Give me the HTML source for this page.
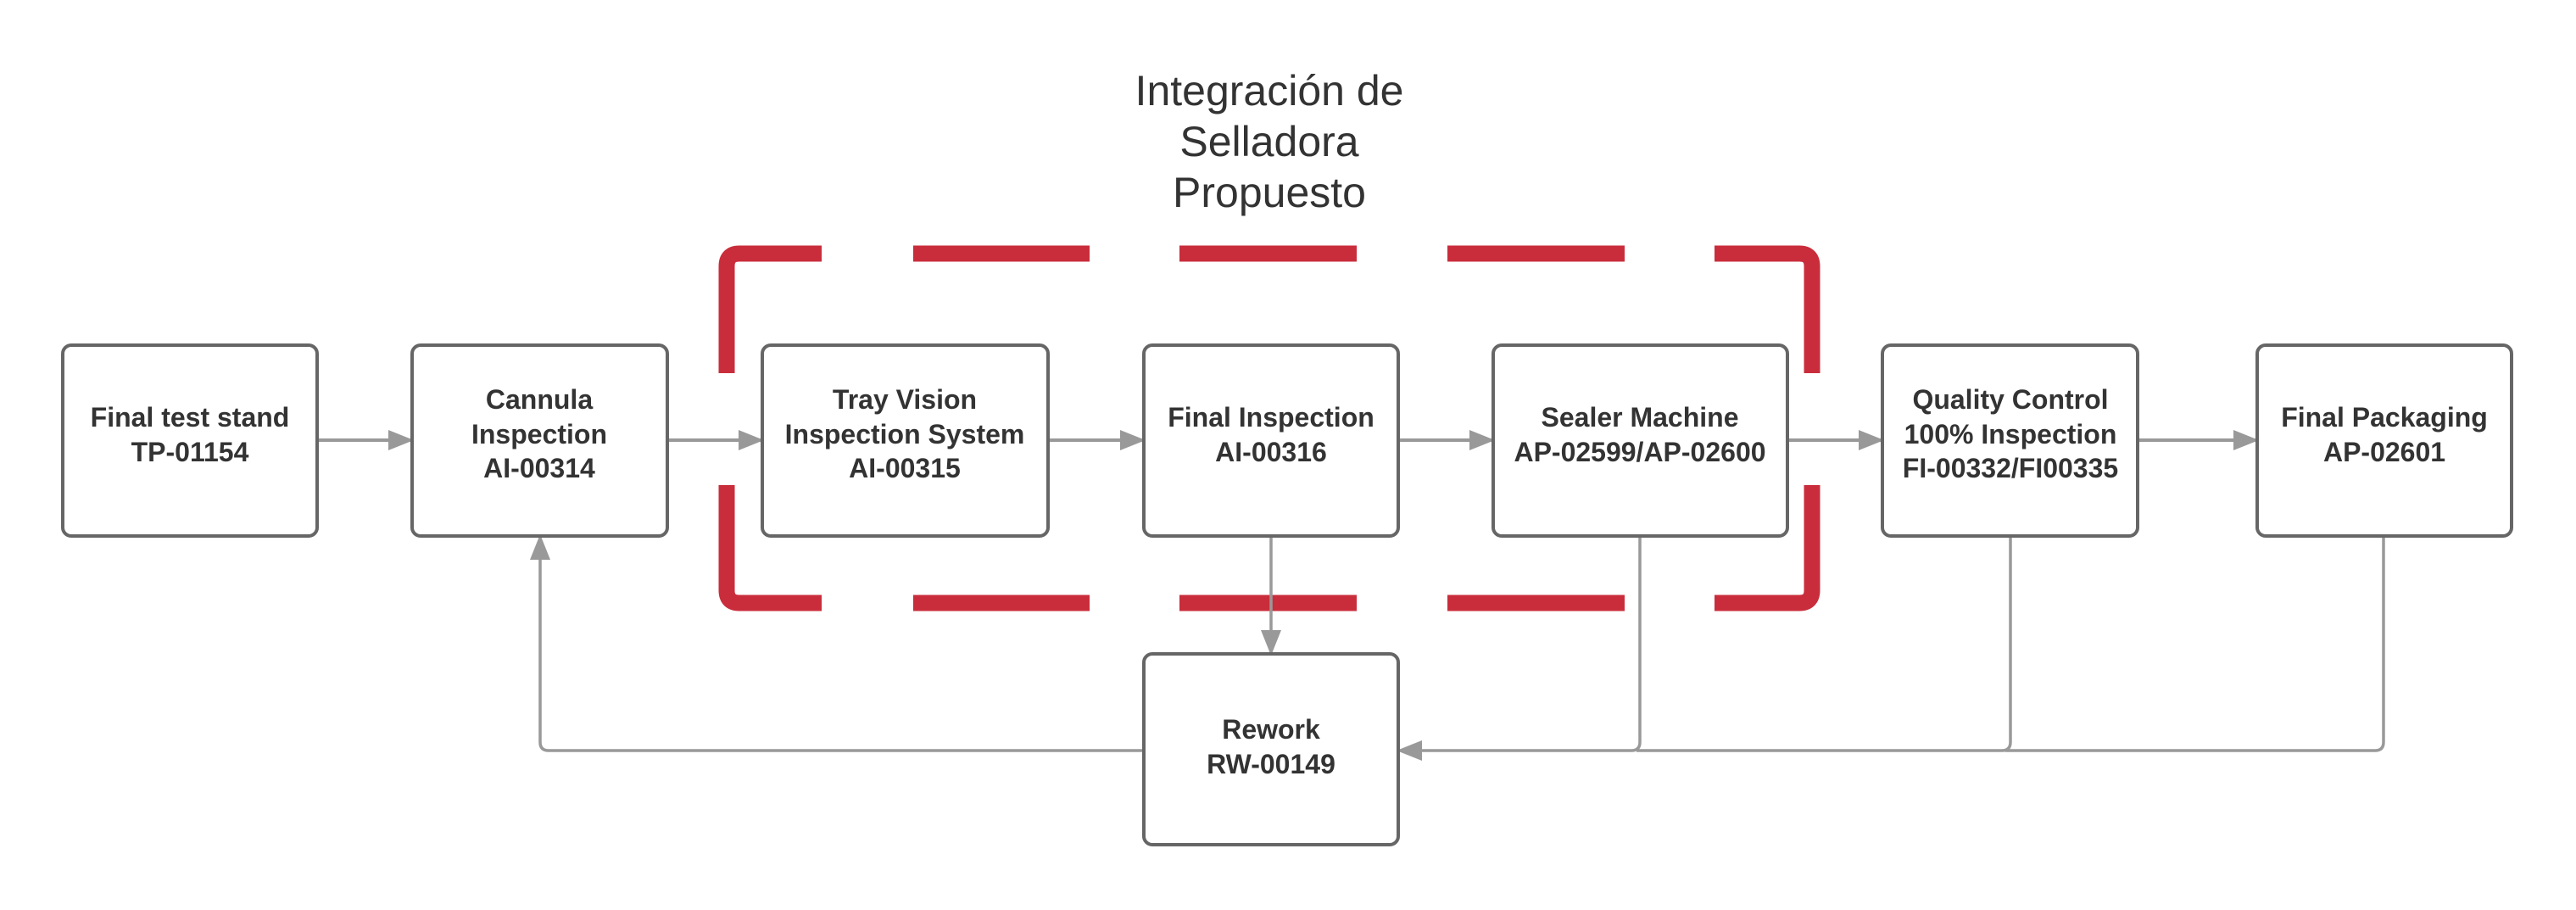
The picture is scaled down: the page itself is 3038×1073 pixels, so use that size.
<!DOCTYPE html>
<html><head><meta charset="utf-8"><style>
html,body{margin:0;padding:0;background:#fff;}
svg{display:block;}
</style></head><body>
<svg width="3038" height="1073" viewBox="0 0 3038 1073" xmlns="http://www.w3.org/2000/svg">
<defs>
<marker id="ah" markerWidth="30" markerHeight="24" refX="28" refY="12" orient="auto" markerUnits="userSpaceOnUse">
<path d="M0,0 L30,12 L0,24 Z" fill="#999"/>
</marker>
</defs>
<g font-family="Liberation Sans, sans-serif" fill="#333">
<text x="1497" y="124" font-size="50" text-anchor="middle">Integración de</text>
<text x="1497" y="184" font-size="50" text-anchor="middle">Selladora</text>
<text x="1497" y="244" font-size="50" text-anchor="middle">Propuesto</text>
</g>
<!-- red dashed frame -->
<g stroke="#c92d3b" stroke-width="19" fill="none">
<path d="M969,299 L872,299 Q857,299 857,314 L857,440"/>
<path d="M857,572 L857,696 Q857,711 872,711 L969,711"/>
<path d="M1077,299 L1285,299"/><path d="M1391,299 L1600,299"/><path d="M1707,299 L1916,299"/>
<path d="M1077,711 L1285,711"/><path d="M1391,711 L1600,711"/><path d="M1707,711 L1916,711"/>
<path d="M2022,299 L2122,299 Q2137,299 2137,314 L2137,440"/>
<path d="M2137,572 L2137,696 Q2137,711 2122,711 L2022,711"/>
</g>
<!-- connectors -->
<g stroke="#999" stroke-width="4" fill="none">
<path d="M374,519 L486,519" marker-end="url(#ah)"/>
<path d="M787,519 L899,519" marker-end="url(#ah)"/>
<path d="M1236,519 L1349,519" marker-end="url(#ah)"/>
<path d="M1649,519 L1761,519" marker-end="url(#ah)"/>
<path d="M2108,519 L2220,519" marker-end="url(#ah)"/>
<path d="M2521,519 L2662,519" marker-end="url(#ah)"/>
</g>
<g stroke="#999" stroke-width="3.5" fill="none">
<path d="M1499,632 L1499,771" marker-end="url(#ah)"/>
<path d="M1349,885 L647,885 Q637,885 637,875 L637,632" marker-end="url(#ah)"/>
<path d="M1934,632 L1934,875 Q1934,885 1924,885 L1649,885" marker-end="url(#ah)"/>
<path d="M2371,632 L2371,875 Q2371,885 2361,885 L1930,885"/>
<path d="M2811,632 L2811,875 Q2811,885 2801,885 L2365,885"/>
</g>
<!-- boxes -->
<g stroke="#666" stroke-width="4" fill="#fff">
<rect x="74" y="407" width="300" height="225" rx="10"/>
<rect x="486" y="407" width="301" height="225" rx="10"/>
<rect x="899" y="407" width="337" height="225" rx="10"/>
<rect x="1349" y="407" width="300" height="225" rx="10"/>
<rect x="1761" y="407" width="347" height="225" rx="10"/>
<rect x="2220" y="407" width="301" height="225" rx="10"/>
<rect x="2662" y="407" width="300" height="225" rx="10"/>
<rect x="1349" y="771" width="300" height="225" rx="10"/>
</g>
<g font-family="Liberation Sans, sans-serif" font-weight="bold" font-size="32" fill="#333" text-anchor="middle">
<text x="224" y="503">Final test stand</text><text x="224" y="544">TP-01154</text>
<text x="636" y="482">Cannula</text><text x="636" y="523">Inspection</text><text x="636" y="563">AI-00314</text>
<text x="1067" y="482">Tray Vision</text><text x="1067" y="523">Inspection System</text><text x="1067" y="563">AI-00315</text>
<text x="1499" y="503">Final Inspection</text><text x="1499" y="544">AI-00316</text>
<text x="1934" y="503">Sealer Machine</text><text x="1934" y="544">AP-02599/AP-02600</text>
<text x="2371" y="482">Quality Control</text><text x="2371" y="523">100% Inspection</text><text x="2371" y="563">FI-00332/FI00335</text>
<text x="2812" y="503">Final Packaging</text><text x="2812" y="544">AP-02601</text>
<text x="1499" y="871">Rework</text><text x="1499" y="912">RW-00149</text>
</g>
</svg>
</body></html>
